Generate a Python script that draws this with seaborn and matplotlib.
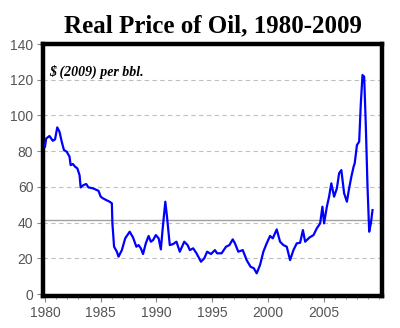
import matplotlib
matplotlib.use("Agg")
import matplotlib.pyplot as plt
import seaborn as sns
import pandas as pd
from matplotlib.ticker import MultipleLocator

years = [1980.0, 1980.1, 1980.4, 1980.7, 1980.9, 1981.1, 1981.3, 1981.5, 1981.7, 1981.95,
         1982.2, 1982.3, 1982.5, 1982.7, 1982.9, 1983.1, 1983.2, 1983.45, 1983.7, 1983.9,
         1984.3, 1984.8, 1985.0, 1985.2, 1985.5, 1985.8, 1986.0, 1986.05, 1986.2, 1986.45,
         1986.6, 1986.9, 1987.2, 1987.6, 1987.9, 1988.2, 1988.4, 1988.6, 1988.8, 1989.05,
         1989.3, 1989.5, 1989.7, 1989.95, 1990.2, 1990.4, 1990.55, 1990.8, 1990.95, 1991.2,
         1991.5, 1991.8, 1992.1, 1992.5, 1992.8, 1993.0, 1993.3, 1993.6, 1994.0, 1994.3,
         1994.55, 1994.9, 1995.25, 1995.45, 1995.85, 1996.25, 1996.55, 1996.85, 1997.05, 1997.35,
         1997.75, 1998.1, 1998.45, 1998.75, 1999.0, 1999.3, 1999.6, 1999.9, 2000.2, 2000.45,
         2000.8, 2001.1, 2001.4, 2001.7, 2002.0, 2002.3, 2002.6, 2002.9, 2003.15, 2003.35,
         2003.75, 2004.1, 2004.4, 2004.7, 2004.9, 2005.05, 2005.3, 2005.5, 2005.7, 2005.95,
         2006.2, 2006.4, 2006.6, 2006.85, 2007.1, 2007.3, 2007.5, 2007.7, 2007.8, 2008.0,
         2008.2, 2008.35, 2008.5, 2008.65, 2008.8, 2008.95, 2009.1, 2009.25, 2009.4]
prices = [82.5, 87.0, 88.5, 85.8, 86.6, 93.3, 90.9, 85.3, 80.6, 79.7,
          76.9, 72.2, 72.8, 71.3, 70.4, 66.6, 59.7, 61.0, 61.6, 59.7,
          59.2, 57.8, 54.5, 53.6, 52.6, 51.7, 50.8, 39.6, 26.5, 23.7,
          20.9, 24.6, 31.2, 34.9, 31.7, 26.5, 27.4, 25.6, 22.4, 28.4,
          32.5, 29.3, 30.2, 33.0, 31.2, 25.0, 35.8, 51.7, 43.3, 27.4,
          28.0, 29.3, 23.7, 29.3, 27.4, 24.6, 25.6, 22.8, 18.1, 20.0,
          23.7, 22.4, 24.6, 22.8, 22.8, 26.5, 27.4, 30.6, 28.4, 23.7,
          24.6, 19.0, 15.3, 14.4, 11.6, 16.2, 23.7, 28.4, 32.5, 31.2,
          36.2, 29.3, 27.4, 26.5, 19.0, 24.6, 28.4, 28.7, 35.8, 29.3,
          31.7, 33.0, 36.8, 39.6, 48.9, 39.6, 48.9, 54.5, 62.0, 54.5,
          59.2, 67.6, 69.4, 56.4, 51.7, 59.2, 65.7, 71.3, 73.2, 83.4,
          85.3, 106.8, 122.6, 121.7, 93.7, 60.1, 34.9, 39.6, 47.0]

y_ticks = [0, 20, 40, 60, 80, 100, 120, 140]
x_ticks = [1980, 1985, 1990, 1995, 2000, 2005]
ref_level = 41.5

df = pd.DataFrame({"year": years, "price": prices})

fig = plt.figure(figsize=(4.0, 3.28), dpi=100)
ax = fig.add_axes([43/400, 1 - 296/328, 339/400, 252/328])

for g in [20, 40, 60, 80, 100, 120]:
    ax.axhline(g, color="#c0c0c0", lw=0.8, ls=(0, (4, 3)), zorder=0)
ax.axhline(ref_level, color="#a0a0a0", lw=1.0, zorder=1)

sns.lineplot(data=df, x="year", y="price", ax=ax, color="#0000ff", lw=1.6, zorder=3)

ax.set_xlim(1979.82, 2010.25)
ax.set_ylim(-1.1, 140)
ax.set_xticks(x_ticks)
ax.set_yticks(y_ticks)
ax.xaxis.set_minor_locator(MultipleLocator(1))
ax.tick_params(axis="both", which="major", direction="out", length=4, width=0.8,
               color="#888888", labelcolor="#555555", labelsize=10, pad=3)
ax.tick_params(axis="x", which="minor", direction="out", length=2.5, width=0.6, color="#888888")
for lab in ax.get_xticklabels() + ax.get_yticklabels():
    lab.set_family("Liberation Sans")
ax.set_xlabel("")
ax.set_ylabel("")
for s in ax.spines.values():
    s.set_linewidth(3.2)
    s.set_color("black")

ax.text((49 - 43)/339, 1 - (72 - 44)/252, "$ (2009) per bbl.", transform=ax.transAxes,
        family="Liberation Serif", style="italic", weight="bold", fontsize=10,
        va="center", ha="left")

fig.text(213/400, 1 - 26/328, "Real Price of Oil, 1980-2009", family="Liberation Serif",
         weight="bold", fontsize=18, ha="center", va="center")

fig.savefig("out.png", dpi=100)
